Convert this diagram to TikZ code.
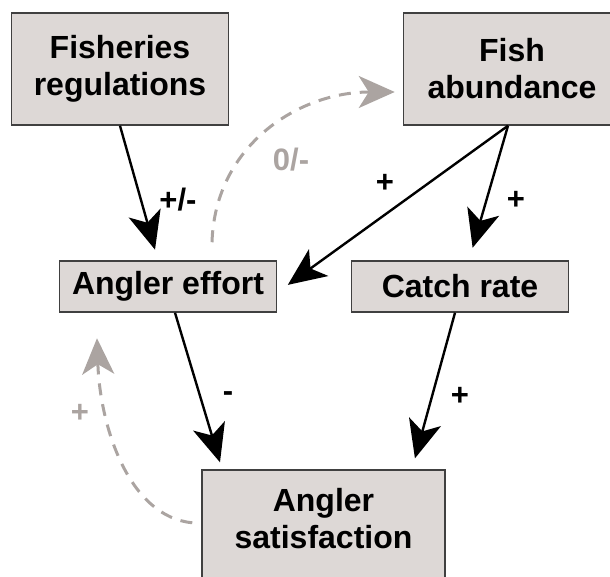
\documentclass[tikz,border=0pt]{standalone}
\usepackage{fontspec}
\setmainfont{Liberation Sans}
\usepackage{xcolor}
\usepackage{tikz}
\usetikzlibrary{arrows.meta, positioning}
\definecolor{boxgrey}{HTML}{DDD8D6}
\definecolor{loopgrey}{HTML}{ABA4A1}

\begin{document}
\begin{tikzpicture}[x=1pt, y=1pt,
  font=\bfseries\fontsize{32}{37}\selectfont,
  box/.style={draw=black!75, line width=1.5pt, fill=boxgrey, align=center, inner sep=0pt, minimum width=217pt},
  link/.style={line width=2.4pt, -{Stealth[length=38pt, width=33pt, inset=10pt]}},
  feedback/.style={line width=3pt, loopgrey, dash pattern=on 12pt off 9pt, -{Stealth[length=36pt, width=32pt, inset=10pt]}},
  sign/.style={font=\bfseries\fontsize{31}{34}\selectfont}]
\useasboundingbox (0,0) rectangle (610,576);
\node[box, minimum height=112pt] (reg) at (120,507) {Fisheries\\regulations};
\node[box, minimum height=112pt] (fish) at (512,507) {Fish\\abundance};
\node[box, minimum height=51pt] (effort) at (168,289.5) {Angler effort};
\node[box, minimum height=51pt] (catch) at (460,289.5) {Catch rate};
\node[box, minimum width=243pt, minimum height=140pt, anchor=north] (sat) at (323.5,107) {};
\node[align=center] (satlbl) at (323.5,57) {Angler\\satisfaction};
\draw[link, shorten >=11pt] (reg.south) -- ([xshift=-10pt]effort.north);
\draw[link, shorten >=13pt] ([xshift=-4pt]fish.south) -- ([yshift=-6pt]effort.east);
\draw[link, shorten >=13pt] ([xshift=-4pt]fish.south) -- ([xshift=9pt]catch.north);
\draw[link, shorten >=7pt] ([xshift=7pt]effort.south) -- ([xshift=-101.5pt]sat.north);
\draw[link, shorten >=11pt] ([xshift=-5pt]catch.south) -- ([xshift=88.5pt]sat.north);
\draw[feedback] ([xshift=44pt, yshift=18pt]effort.north) .. controls +(3,97) and +(-96,0) .. ([xshift=-8pt, yshift=-23pt]fish.west);
\draw[feedback] ([xshift=-9pt, yshift=17pt]sat.west) .. controls +(-63,6) and +(3,-89) .. ([xshift=-71pt, yshift=-25.5pt]effort.south);
\node[sign] (s1) at (178,376) {+/-};
\node[sign] (s2) at (385,393) {+};
\node[sign] (s3) at (516,376) {+};
\node[sign] (s4) at (228,179) {-};
\node[sign] (s5) at (460,180) {+};
\node[sign, loopgrey] (s6) at (291,416) {0/-};
\node[sign, loopgrey] (s7) at (80,163) {+};
\end{tikzpicture}
\end{document}
